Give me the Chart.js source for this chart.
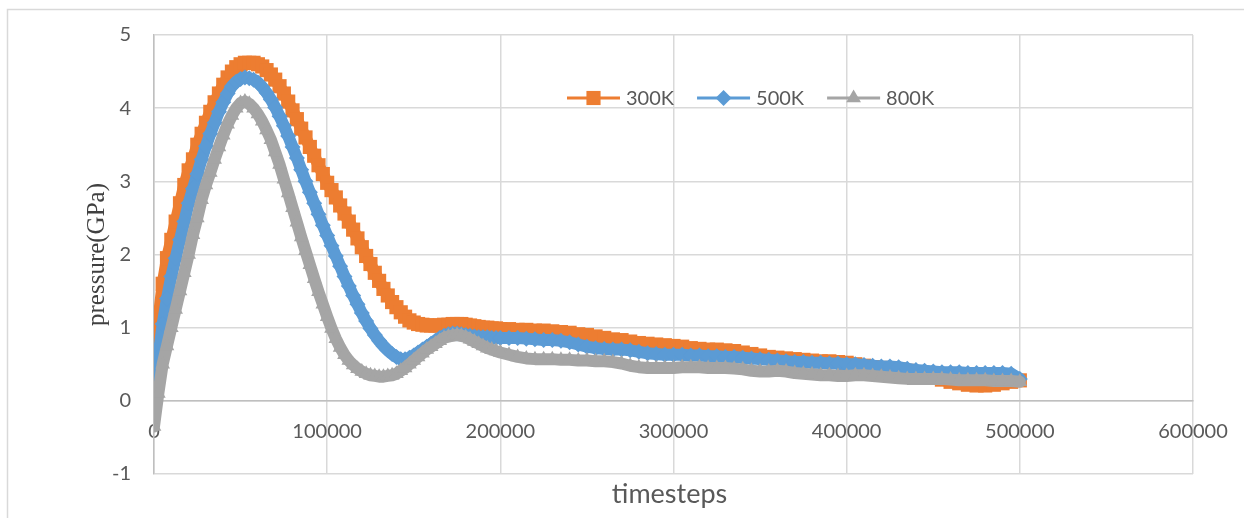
<!DOCTYPE html>
<html>
<head>
<meta charset="utf-8">
<title>pressure vs timesteps</title>
<script src="https://cdn.jsdelivr.net/npm/chart.js@4/dist/chart.umd.min.js"></script>
<style>
  html, body { margin: 0; padding: 0; background: #ffffff; }
  #wrap { position: relative; width: 1244px; height: 518px; }
</style>
</head>
<body>
<div id="wrap"><canvas id="c" width="1244" height="518"></canvas></div>
<script>
// Sampling instants (timesteps)
const timesteps = [
  0, 2500, 5000, 7500, 10000, 12500, 15000, 17500, 20000, 22500,
  25000, 27500, 30000, 32500, 35000, 37500, 40000, 42500, 45000, 47500,
  50000, 52500, 55000, 57500, 60000, 62500, 65000, 67500, 70000, 72500,
  75000, 77500, 80000, 82500, 85000, 87500, 90000, 92500, 95000, 97500,
  100000, 102500, 105000, 107500, 110000, 112500, 115000, 117500, 120000, 122500,
  125000, 127500, 130000, 132500, 135000, 137500, 140000, 142500, 145000, 147500,
  150000, 152500, 155000, 157500, 160000, 162500, 165000, 167500, 170000, 172500,
  175000, 177500, 180000, 182500, 185000, 187500, 190000, 192500, 195000, 197500,
  200000,
  205000, 210000, 215000, 220000, 225000, 230000, 235000, 240000, 245000, 250000,
  255000, 260000, 265000, 270000, 275000, 280000, 285000, 290000, 295000, 300000,
  305000, 310000, 315000, 320000, 325000, 330000, 335000, 340000, 345000, 350000,
  355000, 360000, 365000, 370000, 375000, 380000, 385000, 390000, 395000, 400000,
  405000, 410000, 415000, 420000, 425000, 430000, 435000, 440000, 445000, 450000,
  455000, 460000, 465000, 470000, 475000, 480000, 485000, 490000, 495000, 500000
];

// Pressure (GPa) at 300K
const p300K = [
  0.55, 1.1, 1.6, 1.95, 2.2, 2.45, 2.7, 2.95, 3.15, 3.3,
  3.5, 3.65, 3.8, 3.95, 4.08, 4.2, 4.32, 4.42, 4.5, 4.56,
  4.6, 4.62, 4.62, 4.62, 4.6, 4.57, 4.52, 4.46, 4.39, 4.3,
  4.2, 4.09, 3.97, 3.85, 3.72, 3.6, 3.47, 3.35, 3.22, 3.1,
  2.98, 2.88, 2.78, 2.67, 2.56, 2.45, 2.34, 2.22, 2.1, 1.98,
  1.87, 1.75, 1.64, 1.53, 1.44, 1.35, 1.28, 1.21, 1.15, 1.1,
  1.07, 1.05, 1.04, 1.03, 1.03, 1.03, 1.03, 1.04, 1.04, 1.05,
  1.05, 1.05, 1.04, 1.03, 1.02, 1.01, 1.0, 1.0, 0.99, 0.99,
  0.98,
  0.98, 0.97, 0.97, 0.96, 0.96, 0.95, 0.94, 0.93, 0.91, 0.9,
  0.88, 0.86, 0.84, 0.83, 0.81, 0.79, 0.78, 0.77, 0.76, 0.75,
  0.74, 0.72, 0.71, 0.7, 0.7, 0.69, 0.68, 0.66, 0.64, 0.62,
  0.6, 0.59, 0.58, 0.57, 0.56, 0.55, 0.54, 0.54, 0.53, 0.52,
  0.5, 0.48, 0.46, 0.45, 0.44, 0.43, 0.41, 0.38, 0.35, 0.32,
  0.29, 0.26, 0.24, 0.22, 0.21, 0.21, 0.22, 0.24, 0.26, 0.28
];

// Pressure (GPa) at 500K
const p500K = [
  0.1, 0.6, 1.05, 1.4, 1.7, 1.95, 2.2, 2.45, 2.7, 2.9,
  3.1, 3.3, 3.48, 3.65, 3.8, 3.95, 4.08, 4.2, 4.3, 4.36,
  4.4, 4.42, 4.41, 4.39, 4.35, 4.29, 4.21, 4.12, 4.01, 3.89,
  3.76, 3.62, 3.47, 3.32, 3.16, 3.0, 2.85, 2.7, 2.55, 2.4,
  2.26, 2.12, 1.98, 1.84, 1.7, 1.57, 1.44, 1.32, 1.2, 1.09,
  0.99, 0.9, 0.82, 0.75, 0.69, 0.64, 0.6, 0.57, 0.57, 0.59,
  0.62, 0.66, 0.7, 0.74, 0.78, 0.82, 0.86, 0.89, 0.91, 0.92,
  0.92, 0.91, 0.9, 0.89, 0.88, 0.87, 0.87, 0.87, 0.86, 0.86,
  0.86,
  0.86, 0.86, 0.85, 0.84, 0.83, 0.83, 0.82, 0.8, 0.77, 0.74,
  0.72, 0.71, 0.7, 0.7, 0.69, 0.67, 0.65, 0.64, 0.63, 0.63,
  0.63, 0.62, 0.62, 0.61, 0.61, 0.6, 0.6, 0.59, 0.58, 0.57,
  0.56, 0.55, 0.54, 0.53, 0.53, 0.52, 0.52, 0.51, 0.51, 0.5,
  0.5, 0.49, 0.48, 0.47, 0.47, 0.46, 0.44, 0.42, 0.41, 0.4,
  0.39, 0.39, 0.39, 0.38, 0.38, 0.38, 0.38, 0.38, 0.37, 0.3
];

// Pressure (GPa) at 800K
const p800K = [
  -0.35, 0.1, 0.5, 0.75, 1.0, 1.25, 1.5, 1.75, 2.0, 2.27,
  2.5, 2.75, 2.95, 3.12, 3.3, 3.47, 3.63, 3.78, 3.9, 4.0,
  4.07, 4.09, 4.06, 4.0, 3.92, 3.82, 3.7, 3.57, 3.4, 3.23,
  3.03, 2.84, 2.64, 2.44, 2.24, 2.05, 1.86, 1.67, 1.49, 1.32,
  1.15, 0.99, 0.85, 0.73, 0.63, 0.55, 0.49, 0.44, 0.4, 0.37,
  0.35, 0.34, 0.33, 0.33, 0.34, 0.35, 0.37, 0.41, 0.45, 0.5,
  0.55, 0.6, 0.65, 0.7, 0.74, 0.78, 0.82, 0.86, 0.88, 0.89,
  0.9, 0.89, 0.87, 0.84, 0.81, 0.78, 0.75, 0.72, 0.7, 0.68,
  0.66,
  0.63, 0.6, 0.58, 0.57, 0.57, 0.57, 0.56, 0.56, 0.55, 0.55,
  0.54, 0.54, 0.53, 0.51, 0.48, 0.46, 0.45, 0.45, 0.45, 0.45,
  0.46, 0.46, 0.46, 0.45, 0.45, 0.45, 0.44, 0.43, 0.41, 0.4,
  0.4, 0.41, 0.4, 0.38, 0.37, 0.36, 0.35, 0.35, 0.34, 0.34,
  0.35, 0.35, 0.34, 0.33, 0.32, 0.31, 0.3, 0.3, 0.3, 0.3,
  0.3, 0.29, 0.28, 0.28, 0.28, 0.28, 0.27, 0.27, 0.27, 0.26
];

const seriesNames = ['300K', '500K', '800K'];
const xTicks = [0, 100000, 200000, 300000, 400000, 500000, 600000];
const yTicks = [-1, 0, 1, 2, 3, 4, 5];
const xTitle = 'timesteps';
const yTitle = 'pressure(GPa)';

const TEXT_COLOR = '#595959';
const GRID_COLOR = '#d9d9d9';
const AXIS_COLOR = '#bfbfbf';
const SANS = 'Lato, Carlito, Calibri, "Open Sans", sans-serif';

const styles = [
  { color: '#ED7D31', pointStyle: 'rect', radius: 10 },
  { color: '#5B9BD5', pointStyle: 'rectRot', radius: 8 },
  { color: '#A5A5A5', pointStyle: 'triangle', radius: 8.5 }
];

function pairs(ys) {
  return timesteps.map((t, i) => ({ x: t, y: ys[i] }));
}

// Densely sampled traces: a wide stroke under the markers keeps each trace a solid band
const datasets = [p300K, p500K, p800K].map((ys, i) => ({
  label: seriesNames[i],
  data: pairs(ys),
  borderColor: styles[i].color,
  backgroundColor: styles[i].color,
  borderWidth: 12,
  borderJoinStyle: 'round',
  borderCapStyle: 'round',
  pointStyle: styles[i].pointStyle,
  pointRadius: styles[i].radius,
  pointHoverRadius: styles[i].radius,
  pointBackgroundColor: styles[i].color,
  pointBorderColor: styles[i].color,
  pointBorderWidth: 0,
  tension: 0,
  fill: false,
  order: 3 - i
}));

// Light outline around the chart
const framePlugin = {
  id: 'frame',
  beforeDraw(chart) {
    const ctx = chart.ctx;
    ctx.save();
    ctx.strokeStyle = GRID_COLOR;
    ctx.lineWidth = 1.5;
    ctx.strokeRect(7.5, 9.5, 1400, 700);
    ctx.restore();
  }
};

// Line-with-marker legend sitting inside the plot
const legendPlugin = {
  id: 'lineLegend',
  afterDraw(chart) {
    const ctx = chart.ctx;
    const y = 98;
    let x = 567;
    const lineLen = 53;
    ctx.save();
    ctx.font = '20px ' + SANS;
    ctx.textBaseline = 'middle';
    ctx.textAlign = 'left';
    chart.data.datasets.forEach((ds, i) => {
      const st = styles[i];
      ctx.strokeStyle = st.color;
      ctx.lineWidth = 3;
      ctx.beginPath();
      ctx.moveTo(x, y);
      ctx.lineTo(x + lineLen, y);
      ctx.stroke();
      ctx.fillStyle = st.color;
      Chart.helpers.drawPoint(ctx, { radius: st.radius, pointStyle: st.pointStyle, rotation: 0, borderWidth: 0 }, x + lineLen / 2, y);
      ctx.fillStyle = TEXT_COLOR;
      ctx.fillText(ds.label, x + lineLen + 6, y + 1);
      x += lineLen + 6 + ctx.measureText(ds.label).width + 23;
    });
    ctx.restore();
  }
};

// Horizontal axis title under the plot
const xTitlePlugin = {
  id: 'xTitle',
  afterDraw(chart) {
    const ctx = chart.ctx;
    const a = chart.chartArea;
    ctx.save();
    ctx.font = '27px ' + SANS;
    ctx.fillStyle = TEXT_COLOR;
    ctx.textAlign = 'center';
    ctx.textBaseline = 'middle';
    ctx.fillText(xTitle, (a.left + a.right) / 2 - 4, 494);
    ctx.restore();
  }
};

new Chart(document.getElementById('c'), {
  type: 'line',
  data: { datasets },
  options: {
    responsive: false,
    animation: false,
    events: [],
    layout: { padding: { top: 35, right: 51, bottom: 44, left: 0 } },
    plugins: {
      legend: { display: false },
      tooltip: { enabled: false },
      title: { display: false }
    },
    scales: {
      x: {
        type: 'linear',
        position: { y: 0 },
        min: 0,
        max: 600000,
        afterBuildTicks: (s) => { s.ticks = xTicks.map(v => ({ value: v })); },
        afterFit: (s) => { s.paddingLeft = 0; s.paddingRight = 0; },
        ticks: {
          autoSkip: false,
          maxRotation: 0,
          padding: 19,
          color: TEXT_COLOR,
          font: { family: SANS, size: 20 },
          callback: (v) => String(v)
        },
        grid: { color: GRID_COLOR, lineWidth: 1.5, drawTicks: false },
        border: { color: AXIS_COLOR, width: 1.5 }
      },
      y: {
        type: 'linear',
        min: -1,
        max: 5,
        afterBuildTicks: (s) => { s.ticks = yTicks.map(v => ({ value: v })); },
        afterFit: (s) => { s.width = 154; s.paddingTop = 0; s.paddingBottom = 0; },
        ticks: {
          padding: 23,
          color: TEXT_COLOR,
          font: { family: SANS, size: 20 },
          callback: (v) => String(v)
        },
        grid: { color: GRID_COLOR, lineWidth: 1.5, drawTicks: false },
        border: { color: AXIS_COLOR, width: 1.5 },
        title: {
          display: true,
          text: yTitle,
          color: '#404040',
          font: { family: '"Liberation Serif", "Times New Roman", serif', size: 25 },
          padding: { top: 82, bottom: 0 }
        }
      }
    }
  },
  plugins: [framePlugin, legendPlugin, xTitlePlugin]
});
</script>
</body>
</html>
